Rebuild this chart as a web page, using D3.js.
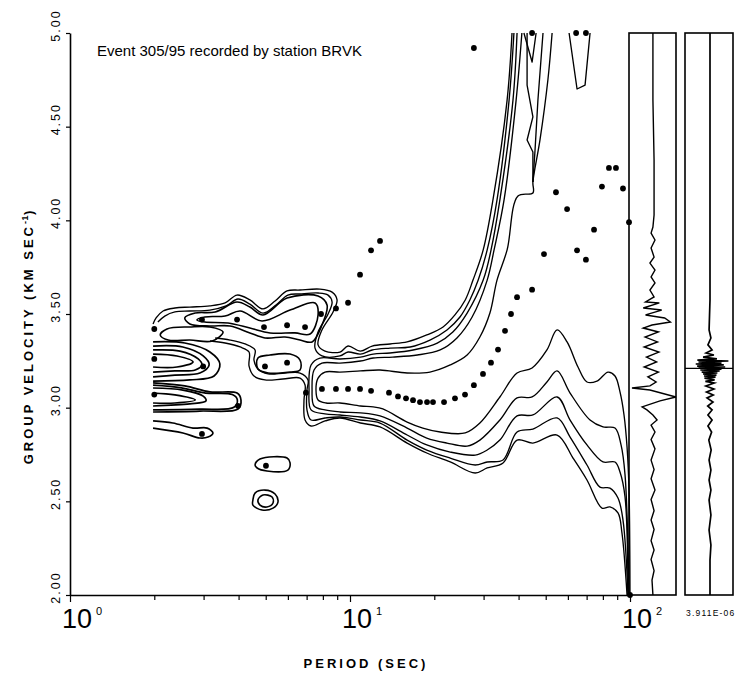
<!DOCTYPE html>
<html><head><meta charset="utf-8">
<script src="https://cdn.jsdelivr.net/npm/d3@7"></script>
<style>body{margin:0;background:#fff}svg{display:block}</style>
</head><body>
<svg id="c" width="740" height="674"></svg>
<script>
// ---------------- DATA ----------------
const periodMajorTicks = [1, 10, 100];
const periodMajorLabels = ["0", "1", "2"]; // exponents of 10
const periodMinorTicks = [2,3,4,5,6,7,8,9,20,30,40,50,60,70,80,90];
const velocityTicks = [2.0, 2.5, 3.0, 3.5, 4.0, 4.5, 5.0];
const titleText = "Event 305/95 recorded by station BRVK";
const xTitle = "PERIOD (SEC)";
const yTitle = "GROUP VELOCITY (KM SEC";
const scaleLabel = "3.911E-06";

// dispersion picks [period s, group velocity km/s]
const dispersionPoints = [
 [2.0,3.42],[2.0,3.26],[2.0,3.07],[2.96,3.47],[2.99,3.22],[2.96,2.86],
 [3.95,3.47],[3.98,3.01],[4.93,3.43],[4.97,3.22],[5.01,2.69],[5.96,3.44],
 [5.96,3.24],[6.91,3.43],[6.96,3.08],[7.88,3.50],[8.91,3.53],[9.84,3.56],
 [10.86,3.71],[11.89,3.84],[12.8,3.89],[7.94,3.10],[8.91,3.10],[9.84,3.10],
 [10.86,3.10],[11.89,3.09],[13.78,3.08],[14.84,3.06],[15.85,3.05],[16.79,3.04],
 [17.78,3.03],[18.84,3.03],[19.79,3.03],[21.67,3.03],[23.71,3.05],[25.75,3.07],
 [27.7,3.12],[29.85,3.18],[31.88,3.24],[33.78,3.31],[35.78,3.41],[37.58,3.50],
 [39.5,3.59],[44.7,3.63],[49.3,3.82],[54.4,4.15],[59.6,4.06],[64.7,3.84],
 [69.6,3.79],[74.4,3.95],[79.4,4.18],[84.1,4.28],[89.1,4.28],[94.4,4.17],
 [99.2,3.99],[27.7,4.92],[44.7,5.00],[64.2,5.00],[69.6,5.00],[100,2.00]
];

// contour lines [period, velocity]
const contourA0 = [[37.9,5.00],[36.4,4.642],[32.4,4.109],[29.9,3.842],[27.5,3.681],[25.8,3.575],[23.7,3.495],[21.5,3.431],[18.8,3.388],[16.0,3.351],[13.9,3.340],[12.0,3.329],[10.9,3.302],[9.84,3.329],[9.21,3.297],[8.14,3.302],[7.69,3.335],[7.94,3.415],[8.70,3.511],[8.99,3.575],[8.63,3.617],[7.81,3.633],[6.63,3.628],[5.96,3.623],[5.40,3.569],[4.89,3.527],[4.39,3.575],[3.95,3.601],[3.58,3.559],[3.16,3.543],[2.68,3.537],[2.37,3.532],[2.15,3.516],[2.03,3.479],[1.98,3.447]];
const contourA1 = [[38.5,5.00],[37.0,4.642],[33.5,4.109],[30.9,3.842],[28.7,3.681],[26.8,3.575],[24.7,3.484],[22.2,3.415],[19.3,3.361],[16.4,3.324],[13.9,3.318],[12.0,3.308],[10.9,3.286],[9.84,3.297],[9.21,3.276],[7.94,3.276],[7.50,3.318],[7.69,3.404],[8.35,3.500],[8.63,3.564],[8.35,3.601],[7.69,3.612],[6.63,3.607],[6.00,3.601],[5.44,3.548],[4.89,3.505],[4.39,3.553],[3.98,3.580],[3.61,3.543],[3.16,3.521],[2.68,3.516],[2.37,3.511],[2.18,3.489],[2.06,3.457]];
const contourA2 = [[39.5,5.00],[38.2,4.642],[34.3,4.109],[31.9,3.842],[29.9,3.681],[26.2,3.505],[23.3,3.404],[20.5,3.345],[16.8,3.308],[13.9,3.292],[12.1,3.286],[10.9,3.270],[9.21,3.260],[7.81,3.265],[7.26,3.228],[7.14,3.094],[7.26,2.988],[8.14,2.967],[9.21,2.961],[10.9,2.950],[12.8,2.929],[16.0,2.854],[18.8,2.801],[22.8,2.763],[28.0,2.747],[30.9,2.774],[34.3,2.827],[39.5,2.956],[45.0,2.961],[54.9,3.057],[61.1,2.934],[70.2,2.801],[80.1,2.710],[88.4,2.710],[92.1,2.657],[96.0,2.523],[98.4,2.00]];
const contourA3 = [[41.1,5.00],[39.2,4.642],[35.5,4.109],[32.7,3.842],[30.9,3.681],[27.3,3.484],[24.1,3.372],[21.0,3.308],[17.4,3.281],[14.2,3.270],[12.1,3.265],[10.9,3.249],[9.21,3.238],[7.94,3.238],[7.44,3.201],[7.32,3.094],[7.44,3.009],[8.14,2.988],[9.21,2.977],[10.9,2.972],[12.8,2.956],[16.0,2.891],[18.8,2.838],[22.2,2.811],[26.2,2.795],[29.1,2.827],[34.3,2.934],[39.5,3.052],[44.7,3.057],[50.5,3.137],[54.9,3.196],[61.1,3.078],[72.0,2.934],[80.1,2.897],[88.4,2.891],[92.9,2.801],[96.0,2.641],[99.2,2.00]];
const contourA4 = [[52.7,5.00],[50.9,4.749],[47.7,4.429],[45.0,4.205],[45.0,4.146],[39.8,4.130],[36.4,3.842],[33.5,3.681],[31.6,3.505],[29.1,3.377],[26.2,3.281],[22.8,3.228],[19.3,3.190],[16.0,3.185],[12.8,3.201],[10.9,3.196],[9.21,3.190],[8.14,3.190],[7.69,3.158],[7.56,3.094],[7.69,3.041],[8.21,3.025],[9.21,3.025],[10.9,3.009],[12.1,3.004],[13.1,2.993],[16.0,2.923],[18.2,2.891],[21.0,2.870],[25.8,2.865],[29.1,2.918],[34.3,3.057],[39.5,3.185],[44.7,3.212],[50.5,3.308],[54.9,3.415],[59.6,3.351],[65.2,3.217],[70.2,3.137],[76.2,3.142],[83.5,3.190],[88.4,3.169],[92.1,3.084],[95.2,2.961],[97.6,2.790],[99.2,2.560],[100,2.00]];
const contourB1 = [[98.4,2.00],[94.4,2.400],[90.6,2.518],[84.8,2.571],[78.1,2.576],[70.2,2.694],[61.1,2.843],[54.9,2.945],[45.0,2.886],[39.5,2.870],[35.2,2.721],[30.9,2.710],[28.0,2.694],[22.8,2.731],[18.8,2.774],[16.0,2.827],[12.8,2.918],[10.9,2.934],[9.21,2.950],[8.14,2.945],[7.26,2.934],[7.02,2.988],[7.02,3.094],[7.08,3.148],[6.63,3.185],[5.86,3.185],[5.10,3.180],[4.69,3.206],[4.54,3.254],[4.58,3.308],[4.22,3.340],[3.73,3.361],[3.30,3.372]];
const contourB0 = [[97.6,2.00],[93.6,2.331],[90.6,2.438],[84.8,2.470],[79.4,2.464],[70.2,2.614],[62.6,2.731],[54.9,2.854],[45.0,2.811],[39.5,2.827],[35.2,2.705],[30.9,2.678],[28.0,2.651],[22.8,2.710],[18.8,2.758],[16.0,2.811],[12.8,2.897],[10.9,2.918],[9.21,2.945],[8.14,2.929],[7.26,2.902],[6.91,2.934],[6.85,3.041],[6.91,3.121],[6.63,3.158],[5.76,3.153],[4.97,3.148],[4.54,3.169],[4.36,3.222],[4.36,3.297],[4.05,3.324],[3.58,3.345],[3.16,3.356]];
const fingerG0 = [[1.98,3.351],[2.57,3.345],[3.16,3.297],[3.43,3.233],[3.27,3.169],[2.68,3.148],[1.98,3.142]];
const fingerG1 = [[1.98,3.329],[2.53,3.324],[2.99,3.276],[3.14,3.228],[2.91,3.185],[2.37,3.174],[1.98,3.164]];
const fingerG2 = [[1.98,3.308],[2.47,3.302],[2.87,3.260],[2.96,3.228],[2.80,3.201],[2.37,3.196],[1.98,3.190]];
const fingerG3 = [[1.98,3.286],[2.41,3.276],[2.75,3.244],[2.41,3.217],[1.98,3.217]];
const fingerK0 = [[1.98,3.132],[2.57,3.116],[3.16,3.084],[3.95,3.078],[4.08,3.041],[3.98,2.993],[2.91,2.982],[1.98,2.977]];
const fingerK3 = [[1.98,3.120],[2.50,3.106],[3.05,3.078],[3.80,3.070],[3.96,3.042],[3.85,3.002],[2.90,2.992],[1.98,2.988]];
const fingerK1 = [[1.98,3.105],[2.53,3.094],[2.99,3.062],[3.06,3.036],[2.68,3.020],[1.98,3.009]];
const fingerK2 = [[1.98,3.078],[2.37,3.068],[2.80,3.041],[2.37,3.025],[1.98,3.025]];
const fingerQ = [[1.98,2.929],[2.33,2.918],[2.75,2.891],[3.09,2.891],[3.24,2.865],[3.11,2.843],[2.91,2.838],[2.53,2.865],[1.98,2.891]];
const loopBand2 = [[2.57,3.479],[2.80,3.505],[3.30,3.511],[3.95,3.564],[4.39,3.537],[4.89,3.495],[5.96,3.585],[7.69,3.596],[8.28,3.548],[7.94,3.441],[7.32,3.351],[6.63,3.361],[5.86,3.377],[4.97,3.372],[4.39,3.399],[3.73,3.436],[3.16,3.436],[2.68,3.447]];
const loopBand3 = [[2.84,3.468],[3.03,3.484],[3.58,3.489],[4.05,3.516],[4.85,3.463],[6.11,3.521],[7.50,3.559],[7.69,3.495],[7.20,3.393],[6.36,3.399],[5.18,3.399],[4.39,3.425],[3.67,3.452],[3.03,3.457]];
const loopTongue = [[2.10,3.388],[2.22,3.420],[2.68,3.431],[3.16,3.431],[3.52,3.404],[3.22,3.356],[2.68,3.361],[2.24,3.361]];
const loopLobe = [[4.69,3.265],[5.18,3.281],[6.11,3.286],[6.63,3.254],[6.63,3.201],[6.11,3.190],[5.10,3.185],[4.69,3.206]];
const island1 = [[4.58,2.694],[4.77,2.726],[5.96,2.731],[6.11,2.705],[6.00,2.667],[5.05,2.662],[4.66,2.678]];
const island2 = [[4.50,2.507],[4.58,2.544],[4.97,2.560],[5.40,2.539],[5.53,2.496],[5.31,2.464],[4.85,2.454],[4.50,2.480]];
const island3 = [[4.69,2.507],[4.89,2.534],[5.27,2.523],[5.31,2.491],[5.05,2.470],[4.77,2.480]];
const topTrap = [[60.6,5.00],[64.7,4.701],[69.1,4.722],[72.0,5.00]];
const topE1 = [[48.9,5.00],[46.9,4.642],[45.8,4.375],[45.0,4.205]];
const topZig = [[42.9,5.00],[42.9,4.722],[45.0,4.552],[42.9,4.429],[45.0,4.365],[45.0,4.205]];
const topV = [[41.8,5.00],[44.7,4.845],[46.2,5.00]];

// seismogram traces [velocity, normalised amplitude]
const trace1 = [[5.00,0.04],[4.642,0.04],[4.322,0.09],[4.028,0.09],[3.964,0.04],[3.932,-0.04],[3.895,0.13],[3.852,-0.04],[3.804,0.09],[3.772,-0.09],[3.735,0.13],[3.698,-0.04],[3.666,0.13],[3.628,-0.09],[3.591,0.09],[3.564,-0.28],[3.559,0.32],[3.532,-0.38],[3.521,0.42],[3.495,-0.28],[3.479,0.55],[3.457,0.80],[3.441,0.0],[3.425,-0.38],[3.404,0.28],[3.377,-0.30],[3.351,0.24],[3.324,-0.34],[3.297,0.30],[3.270,-0.24],[3.244,0.20],[3.217,-0.34],[3.190,0.28],[3.164,-0.18],[3.137,0.18],[3.116,-0.09],[3.105,-0.87],[3.094,-0.09],[3.057,1.04],[3.036,0.35],[3.004,-0.43],[2.988,-0.22],[2.961,0.04],[2.934,0.22],[2.907,-0.04],[2.870,0.13],[2.83,-0.04],[2.78,0.13],[2.72,-0.04],[2.67,0.09],[2.62,-0.04],[2.56,0.13],[2.51,-0.04],[2.45,0.09],[2.40,-0.04],[2.35,0.09],[2.29,-0.04],[2.24,0.09],[2.19,-0.04],[2.13,0.09],[2.08,0.0],[2.00,0.04]];
const trace2 = [[5.00,0],[3.575,0],[3.415,-0.04],[3.372,0.04],[3.335,-0.09],[3.308,0.09],[3.292,-0.17],[3.281,0.17],[3.270,-0.30],[3.260,0.30],[3.254,-0.55],[3.249,0.80],[3.244,-0.50],[3.238,0.50],[3.233,-0.62],[3.228,0.60],[3.222,-0.56],[3.217,0.66],[3.212,-0.50],[3.206,0.50],[3.201,-0.42],[3.196,0.42],[3.190,-0.36],[3.185,0.32],[3.180,-0.30],[3.174,0.28],[3.169,-0.26],[3.163,0.24],[3.158,-0.24],[3.148,0.20],[3.140,-0.20],[3.132,0.18],[3.116,-0.18],[3.100,0.17],[3.084,-0.15],[3.068,0.14],[3.052,-0.13],[3.030,0.13],[3.009,-0.10],[2.988,0.09],[2.961,-0.09],[2.934,0.09],[2.902,-0.09],[2.870,0.07],[2.827,-0.05],[2.774,0.05],[2.721,-0.04],[2.667,0.04],[2.614,-0.04],[2.560,0.04],[2.507,-0.04],[2.427,0.04],[2.347,-0.04],[2.267,0.04],[2.187,0],[2.00,0]];
const trace2Marker = [3.21];

const openContours = [contourA0,contourA1,contourA2,contourA3,contourA4,contourB1,contourB0];
const clusterOpen = [fingerG0,fingerG1,fingerG2,fingerG3,fingerK0,fingerK3,fingerK1,fingerK2,fingerQ];
const closedContours = [loopBand2,loopBand3,loopTongue,loopLobe,island1,island2,island3];
const straightContours = [topTrap,topE1,topZig,topV];

// ---------------- DRAW ----------------
const svg = d3.select("#c");
const font = "'Liberation Sans', Arial, sans-serif";
const x = d3.scaleLog().domain([1,100]).range([70,630]);
const y = d3.scaleLinear().domain([2,5]).range([595,33]);

svg.append("defs").append("clipPath").attr("id","plotclip")
  .append("rect").attr("x",70).attr("y",32).attr("width",561).attr("height",564);

const gC = svg.append("g").attr("clip-path","url(#plotclip)")
  .attr("fill","none").attr("stroke","#000").attr("stroke-width",1.35).attr("stroke-linejoin","round");
const smooth = d3.line().x(d=>x(d[0])).y(d=>y(d[1])).curve(d3.curveCatmullRom.alpha(0.5));
const closed = d3.line().x(d=>x(d[0])).y(d=>y(d[1])).curve(d3.curveCatmullRomClosed.alpha(0.5));
const straight = d3.line().x(d=>x(d[0])).y(d=>y(d[1]));
gC.selectAll("path.o").data(openContours).join("path").attr("class","o").attr("d",smooth);
gC.selectAll("path.k").data(clusterOpen).join("path").attr("class","k").attr("d",smooth).attr("stroke-width",1.7);
gC.selectAll("path.c").data(closedContours).join("path").attr("class","c").attr("d",closed).attr("stroke-width",1.6);
gC.selectAll("path.s").data(straightContours).join("path").attr("class","s").attr("d",straight);

svg.append("g").selectAll("circle").data(dispersionPoints).join("circle")
  .attr("cx",d=>x(d[0])).attr("cy",d=>y(d[1])).attr("r",2.9).attr("fill","#000");

// axes
const xMinor = svg.append("g").attr("transform","translate(0,595)")
  .call(d3.axisBottom(x).tickValues(periodMinorTicks).tickSize(5).tickFormat(""));
const xMajor = svg.append("g").attr("transform","translate(0,595)")
  .call(d3.axisBottom(x).tickValues(periodMajorTicks).tickSize(7).tickFormat("").tickSizeOuter(0));
xMinor.select(".domain").remove();
xMajor.select(".domain").attr("stroke-width",1.6);
svg.selectAll(".tick line").attr("stroke-width",1.2);

const yAx = svg.append("g").attr("transform","translate(70,0)")
  .call(d3.axisLeft(y).tickValues(velocityTicks).tickSize(4).tickSizeOuter(0).tickFormat(d3.format(".2f")));
yAx.select(".domain").attr("stroke-width",1.6);
yAx.selectAll(".tick line").attr("stroke-width",1.2);
yAx.selectAll("text").attr("transform","rotate(-90)").attr("x",8).attr("y",-10).attr("dy",0)
  .attr("text-anchor","middle").attr("font-family",font).attr("font-size",12.5).attr("letter-spacing","2px").attr("fill","#000");

// x tick labels 10^n
periodMajorTicks.forEach((p,i)=>{
  const t = svg.append("text").attr("x",x(p)-8).attr("y",628).attr("font-family",font).attr("font-size",27).attr("fill","#000");
  t.append("tspan").text("10");
  t.append("tspan").attr("dx",4).attr("dy",-13).attr("font-size",11).text(periodMajorLabels[i]);
});

svg.append("text").attr("x",366).attr("y",668).attr("text-anchor","middle").attr("font-family",font)
  .attr("font-weight","bold").attr("font-size",13).attr("letter-spacing","3px").text(xTitle);
const yt = svg.append("text").attr("transform","translate(33,336) rotate(-90)").attr("text-anchor","middle")
  .attr("font-family",font).attr("font-weight","bold").attr("font-size",13).attr("letter-spacing","3px");
yt.append("tspan").text(yTitle);
yt.append("tspan").attr("dy",-5).attr("font-size",9).attr("letter-spacing","0.5px").text("-1");
yt.append("tspan").attr("dy",5).text(")");

svg.append("text").attr("x",97).attr("y",56).attr("font-family",font).attr("font-size",15).text(titleText);

// seismogram panels
const amp1 = d3.scaleLinear().domain([-1,1]).range([629,675]);
const amp2 = d3.scaleLinear().domain([-1,1]).range([687,733]);
const gP = svg.append("g").attr("fill","none").attr("stroke","#000");
gP.append("rect").attr("x",629).attr("y",33).attr("width",47).attr("height",562).attr("stroke-width",1.6);
gP.append("rect").attr("x",685).attr("y",33).attr("width",48).attr("height",562).attr("stroke-width",1.6);
gP.append("path").datum(trace1).attr("stroke-width",1.4)
  .attr("d",d3.line().x(d=>amp1(d[1])).y(d=>y(d[0])));
gP.append("path").datum(trace2).attr("stroke-width",1.7)
  .attr("d",d3.line().x(d=>amp2(d[1])).y(d=>y(d[0])));
gP.selectAll("line.mk").data(trace2Marker).join("line").attr("class","mk")
  .attr("x1",685).attr("x2",733).attr("y1",d=>y(d)).attr("y2",d=>y(d)).attr("stroke-width",1.3);
svg.append("text").attr("x",686).attr("y",616).attr("font-family",font).attr("font-size",8.5)
  .attr("letter-spacing","1.2px").text(scaleLabel);
</script>
</body></html>
